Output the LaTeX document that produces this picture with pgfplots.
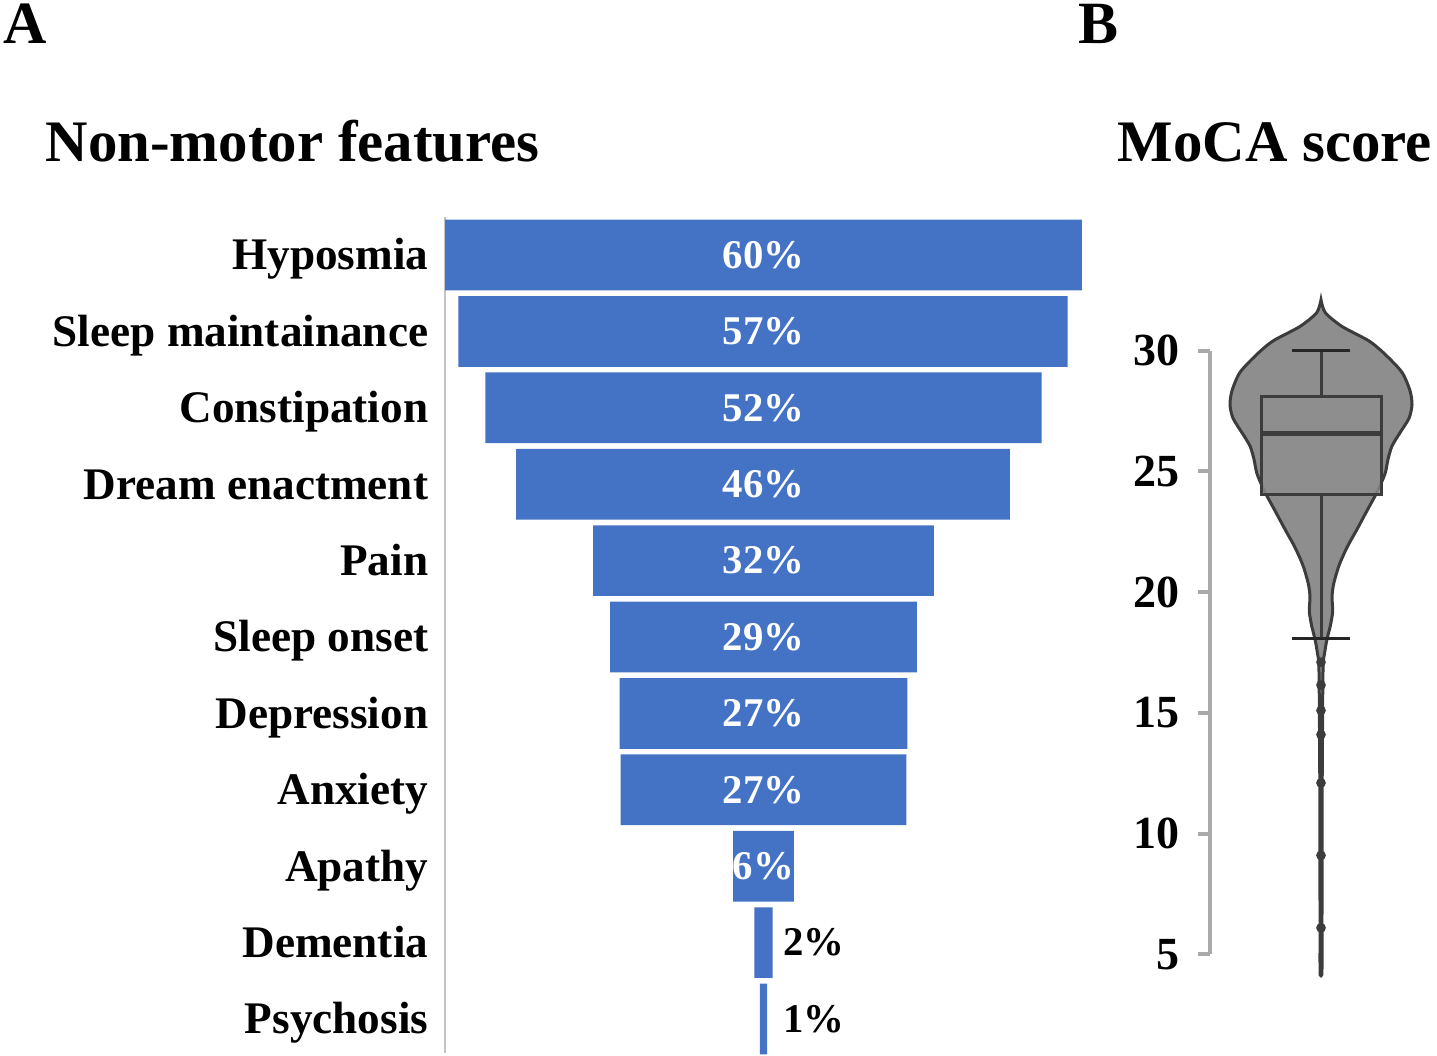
\documentclass[border=0pt]{standalone}
\usepackage{pgfplots}
\pgfplotsset{compat=1.18}
\usepackage{fontspec}
\setmainfont{Liberation Serif}
\definecolor{barblue}{HTML}{4472C4}
\definecolor{violgray}{HTML}{8E8E8E}
\definecolor{violedge}{HTML}{3C3C3C}
\definecolor{spinegray}{HTML}{AAAAAA}
\definecolor{axgray}{HTML}{C4C4C4}
\begin{document}
\begin{tikzpicture}
\useasboundingbox (0,0) rectangle (359.25pt,-264pt);
% panel letters and titles
\node[anchor=base west, inner sep=0pt, font=\fontsize{15}{17}\selectfont\bfseries] at (0.75pt,-11pt) {A};
\node[anchor=base west, inner sep=0pt, font=\fontsize{15}{17}\selectfont\bfseries] at (269.5pt,-11pt) {B};
\node[anchor=base west, inner sep=0pt, font=\fontsize{14.7}{17}\selectfont\bfseries] at (11.25pt,-40.5pt) {Non-motor features};
\node[anchor=base west, inner sep=0pt, font=\fontsize{14.7}{17}\selectfont\bfseries] at (279.25pt,-40.5pt) {MoCA score};

% ---------------- Panel A: funnel ----------------
\begin{axis}[
  at={(190.875pt,-158.78pt)}, anchor=center,
  scale only axis, width=159.25pt, height=209.15pt,
  xmin=0, xmax=60, ymin=-0.5, ymax=10.45,
  y dir=reverse,
  xbar stacked, bar width=0.925,
  axis x line=none,
  axis y line*=left,
  axis line style={-, draw=axgray, line width=0.5pt},
  ytick={0,1,2,3,4,5,6,7,8,9,10},
  yticklabels={Hyposmia,Sleep maintainance,Constipation,Dream enactment,Pain,Sleep onset,Depression,Anxiety,Apathy,Dementia,Psychosis},
  major tick length=0pt,
  y tick label style={font=\fontsize{11.3}{13}\selectfont\bfseries, anchor=base east, inner sep=0pt, xshift=-4pt, yshift=-3.7pt},
  clip=false,
]
\addplot[draw=none, fill=none] coordinates {
 (0,0) (1.25,1) (3.8,2) (6.7,3) (13.95,4) (15.55,5) (16.45,6) (16.55,7) (27.15,8) (29.15,9) (29.65,10)};
\addplot[draw=none, fill=barblue] coordinates {
 (60,0) (57.4,1) (52.4,2) (46.5,3) (32.1,4) (28.9,5) (27.1,6) (26.9,7) (5.7,8) (1.7,9) (0.7,10)};
\end{axis}

% labels overlay (same geometry)
\begin{axis}[
  at={(190.875pt,-158.78pt)}, anchor=center,
  scale only axis, width=159.25pt, height=209.15pt,
  xmin=0, xmax=60, ymin=-0.5, ymax=10.45,
  y dir=reverse, hide axis, clip=false,
]
\addplot[only marks, mark=none, point meta=explicit symbolic,
  nodes near coords, nodes near coords align=center,
  every node near coord/.append style={text=white, font=\fontsize{10.2}{12}\selectfont\bfseries, anchor=center, inner sep=0pt}]
 coordinates {
 (30,0) [60\%] (30,1) [57\%] (30,2) [52\%] (30,3) [46\%] (30,4) [32\%]
 (30,5) [29\%] (30,6) [27\%] (30,7) [27\%] (30,8) [6\%]};
\addplot[only marks, mark=none, point meta=explicit symbolic,
  nodes near coords,
  every node near coord/.append style={text=black, font=\fontsize{10.2}{12}\selectfont\bfseries, anchor=west, inner sep=0pt}]
 coordinates {(31.8,9) [2\%] (31.8,10) [1\%]};
\end{axis}

% ---------------- Panel B: violin ----------------
\begin{axis}[
  at={(328.875pt,-163.125pt)}, anchor=center,
  scale only axis, width=52.75pt, height=150.94pt,
  xmin=-1.11, xmax=1.0, ymin=5, ymax=30,
  axis x line=none,
  axis y line*=left,
  axis line style={-, draw=spinegray, line width=1pt},
  ytick={5,10,15,20,25,30},
  tick align=outside, major tick length=3pt,
  major tick style={draw=spinegray, line width=1pt},
  /pgf/number format/assume math mode=true,
  y tick label style={font=\fontsize{11.5}{13}\selectfont\bfseries, inner sep=0pt, xshift=-4.5pt},
  clip=false,
]
\addplot[fill=violgray, draw=violedge, line width=0.75pt, smooth, tension=0.45] coordinates {
 (0,32.1) (0.043,31.57) (0.21,31.0) (0.48,30.4) (0.64,29.85) (0.81,29.1) (0.89,28.34) (0.91,27.76)
 (0.88,27.2) (0.79,26.6) (0.71,26.05) (0.67,25.5) (0.64,24.9) (0.56,24.14) (0.46,23.37) (0.36,22.6)
 (0.26,21.85) (0.18,21.1) (0.127,20.35) (0.11,19.8) (0.117,19.2) (0.093,18.6) (0.06,18.05) (0.037,17.5)
 (0.02,16.7) (0.012,12) (0.01,7) (0.01,4.5) (0.008,4.15) (-0.008,4.15) (-0.01,4.5) (-0.01,7) (-0.012,12) (-0.02,16.7) (-0.037,17.5) (-0.06,18.05) (-0.093,18.6) (-0.117,19.2)
 (-0.11,19.8) (-0.127,20.35) (-0.18,21.1) (-0.26,21.85) (-0.36,22.6) (-0.46,23.37) (-0.56,24.14)
 (-0.64,24.9) (-0.67,25.5) (-0.71,26.05) (-0.79,26.6) (-0.88,27.2) (-0.91,27.76) (-0.89,28.34)
 (-0.81,29.1) (-0.64,29.85) (-0.48,30.4) (-0.21,31.0) (-0.043,31.57) (0,32.1)} -- cycle;
% whiskers
\addplot[draw=violedge, line width=0.75pt] coordinates {(0,28.1) (0,30)};
\addplot[draw=violedge, line width=0.75pt] coordinates {(0,24.04) (0,18.1)};
\addplot[draw=black!85, line width=0.75pt] coordinates {(-0.29,30) (0.29,30)};
\addplot[draw=black!85, line width=0.75pt] coordinates {(-0.29,18.1) (0.29,18.1)};
% box
\addplot[fill=violgray, fill opacity=0.8, draw=violedge, line width=0.75pt] coordinates {
 (-0.6,24.04) (0.6,24.04) (0.6,28.1) (-0.6,28.1)} -- cycle;
\addplot[draw=violedge, line width=1.4pt] coordinates {(-0.6,26.56) (0.6,26.56)};
% outliers
\addplot[only marks, mark=*, mark size=1pt, color=violedge] coordinates {
 (0,17.1) (0,16.15) (0,15.1) (0,14.1) (0,12.1) (0,9.1) (0,6.1)};
\end{axis}
\end{tikzpicture}
\end{document}
